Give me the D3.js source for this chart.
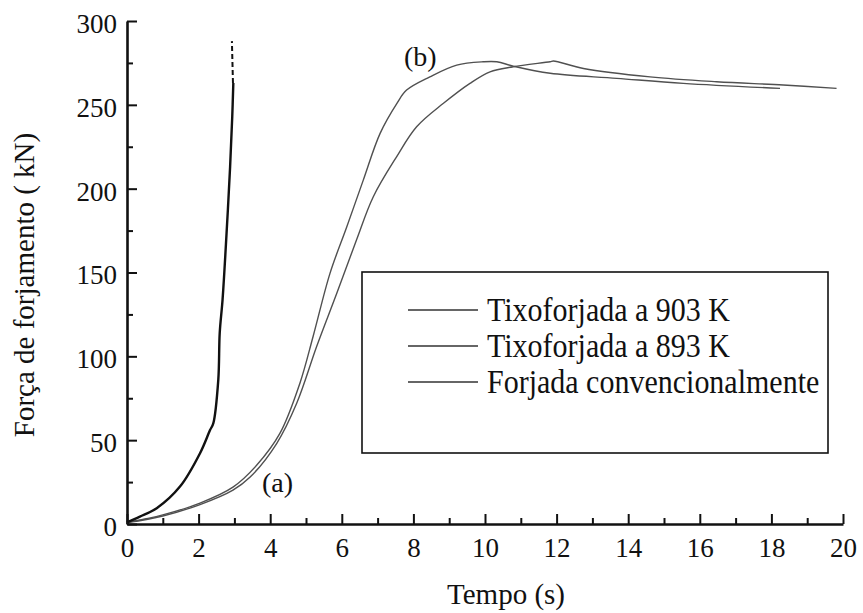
<!DOCTYPE html>
<html>
<head>
<meta charset="utf-8">
<script src="https://cdn.jsdelivr.net/npm/d3@7"></script>
<style>
  html, body { margin: 0; padding: 0; background: #fff; }
  svg { display: block; font-family: "Liberation Serif", "Times New Roman", serif; }
</style>
</head>
<body>
<svg id="chart" width="863" height="613"></svg>
<script>
// Forging force vs. time for three forging conditions
const seriesNames = ["Tixoforjada a 903 K", "Tixoforjada a 893 K", "Forjada convencionalmente"];

// Thixoforged at 903 K (later, slower rise)
const t903 = [0, 1.0, 2.04, 2.96, 3.44, 4.18, 4.74, 5.30, 5.86, 6.41, 6.88, 7.53, 8.09, 8.84, 9.58, 10.14, 10.79, 11.82, 11.91, 12.75, 14.61, 16.47, 18.33, 19.82];
const f903 = [0.8, 4.8, 11.6, 20.2, 28, 48, 72, 106, 137.6, 169.4, 195.2, 219, 236.9, 250.9, 262.8, 269.7, 272.7, 275.7, 276.1, 271.7, 266.7, 263.8, 261.8, 259.8];

// Thixoforged at 893 K (earlier rise, peak near 10 s)
const t893 = [0, 0.5, 1.0, 2.04, 2.96, 3.62, 4.27, 4.83, 5.20, 5.67, 6.14, 6.60, 7.07, 7.54, 7.81, 8.46, 9.21, 9.95, 10.33, 10.79, 11.82, 13.68, 15.54, 18.24];
const f893 = [1, 3, 5.4, 12.5, 22, 35, 54, 84, 112, 149.5, 177.3, 205.1, 233, 250.9, 258.8, 266.7, 273.7, 275.7, 275.7, 273.1, 268.8, 265.8, 262.8, 259.8];

// Conventional forging (steep rise)
const tConv = [0, 0.36, 0.83, 1.48, 2.04, 2.32, 2.41, 2.55, 2.59, 2.67, 2.78, 2.88, 2.94, 2.97];
const fConv = [1, 4.4, 9.4, 22.3, 42.2, 56, 60, 86, 114, 134, 173, 213, 243, 263];
// Dashed continuation beyond the recorded range
const tConvExt = [2.96, 2.93];
const fConvExt = [263, 288];

const xTicks = [0, 2, 4, 6, 8, 10, 12, 14, 16, 18, 20];
const xMinorTicks = [1, 3, 5, 7, 9, 11, 13, 15, 17, 19];
const yTicks = [0, 50, 100, 150, 200, 250, 300];
const yMinorTicks = [25, 75, 125, 175, 225, 275];

const svg = d3.select("#chart");

const x = d3.scaleLinear().domain([0, 20]).range([127, 843]);
const y = d3.scaleLinear().domain([0, 300]).range([524, 21]);

const ink = "#111";

// Axes with inward ticks
const gx = svg.append("g").attr("transform", `translate(0,${y(0)})`);
gx.call(d3.axisBottom(x).tickValues(xTicks).tickFormat(d3.format("d"))
  .tickSizeInner(-10).tickSizeOuter(0).tickPadding(14));
const gxm = svg.append("g").attr("transform", `translate(0,${y(0)})`);
gxm.call(d3.axisBottom(x).tickValues(xMinorTicks).tickFormat("")
  .tickSizeInner(-6).tickSizeOuter(0));
gxm.select(".domain").remove();

const gy = svg.append("g").attr("transform", `translate(${x(0)},0)`);
gy.call(d3.axisLeft(y).tickValues(yTicks).tickFormat(d3.format("d"))
  .tickSizeInner(-10).tickSizeOuter(0).tickPadding(10));
const gym = svg.append("g").attr("transform", `translate(${x(0)},0)`);
gym.call(d3.axisLeft(y).tickValues(yMinorTicks).tickFormat("")
  .tickSizeInner(-6).tickSizeOuter(0));
gym.select(".domain").remove();

svg.selectAll(".domain").attr("stroke", ink).attr("stroke-width", 2.6);
svg.selectAll(".tick line").attr("stroke", ink).attr("stroke-width", 2);
svg.selectAll(".tick text")
  .attr("font-family", "Liberation Serif, serif")
  .attr("font-size", 27).attr("fill", ink);
gy.selectAll(".tick text").attr("dy", "0.42em");

// Axis titles
svg.append("text")
  .attr("x", 506).attr("y", 604)
  .attr("text-anchor", "middle")
  .attr("font-size", 29).attr("fill", ink)
  .text("Tempo (s)");

svg.append("text")
  .attr("transform", "translate(34,285) rotate(-90)")
  .attr("text-anchor", "middle")
  .attr("font-size", 29).attr("fill", ink)
  .text("Força de forjamento ( kN)");

// Curves
const line = d3.line().x(d => x(d[0])).y(d => y(d[1])).curve(d3.curveCatmullRom.alpha(0.5));
const zip = (a, b) => a.map((v, i) => [v, b[i]]);

svg.append("path")
  .datum(zip(t903, f903))
  .attr("d", line)
  .attr("fill", "none").attr("stroke", "#505050").attr("stroke-width", 1.4);

svg.append("path")
  .datum(zip(t893, f893))
  .attr("d", line)
  .attr("fill", "none").attr("stroke", "#505050").attr("stroke-width", 1.4);

svg.append("path")
  .datum(zip(tConv, fConv))
  .attr("d", line)
  .attr("fill", "none").attr("stroke", ink).attr("stroke-width", 2.4);

svg.append("path")
  .datum(zip(tConvExt, fConvExt))
  .attr("d", d3.line().x(d => x(d[0])).y(d => y(d[1])))
  .attr("fill", "none").attr("stroke", ink).attr("stroke-width", 2)
  .attr("stroke-dasharray", "5,3");

// Curve annotations
svg.append("text").attr("x", 262).attr("y", 492)
  .attr("font-size", 28).attr("fill", ink).text("(a)");
svg.append("text").attr("x", 404).attr("y", 66)
  .attr("font-size", 28).attr("fill", ink).text("(b)");

// Legend
const legend = svg.append("g");
legend.append("rect")
  .attr("x", 362).attr("y", 272).attr("width", 466).attr("height", 181)
  .attr("fill", "#fff").attr("stroke", ink).attr("stroke-width", 1.6);

const rows = legend.selectAll("g.row").data(seriesNames).join("g")
  .attr("class", "row")
  .attr("transform", (d, i) => `translate(0,${310 + i * 36})`);
rows.append("line")
  .attr("x1", 408).attr("x2", 478).attr("y1", 0).attr("y2", 0)
  .attr("stroke", "#333").attr("stroke-width", 1.5);
rows.append("text")
  .attr("transform", "translate(487,11) scale(1,1.12)")
  .attr("font-size", 30).attr("fill", ink)
  .text(d => d);
</script>
</body>
</html>
